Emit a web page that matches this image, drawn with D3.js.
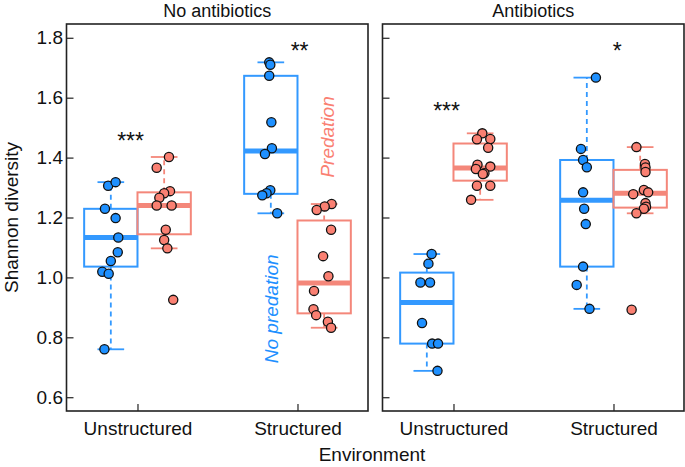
<!DOCTYPE html>
<html>
<head>
<meta charset="utf-8">
<script src="https://cdn.jsdelivr.net/npm/d3@7"></script>
<style>
  html, body { margin: 0; padding: 0; background: #fff; }
  svg { display: block; font-family: "Liberation Sans", Arial, Helvetica, sans-serif; }
</style>
</head>
<body>
<svg id="chart" width="685" height="467"></svg>
<script>
// ---------------- DATA ----------------
const panels = ["No antibiotics", "Antibiotics"];
const environments = ["Unstructured", "Structured"];
const treatments = ["No predation", "Predation"];
const yTicks = [0.6, 0.8, 1.0, 1.2, 1.4, 1.6, 1.8];

// points (Shannon diversity) per panel / environment / treatment
const noAbUnstrNoPred = [1.306, 1.318, 1.229, 1.198, 1.133, 1.084, 1.055, 1.019, 1.012, 0.760];
const noAbUnstrPred   = [1.402, 1.366, 1.288, 1.281, 1.266, 1.240, 1.240, 1.159, 1.125, 1.097, 0.925];
const noAbStrNoPred   = [1.718, 1.710, 1.673, 1.518, 1.431, 1.412, 1.291, 1.281, 1.274, 1.214];
const noAbStrPred     = [1.245, 1.237, 1.225, 1.159, 1.071, 1.004, 0.955, 0.894, 0.874, 0.852, 0.832];
const abUnstrNoPred   = [1.078, 1.046, 0.983, 0.983, 0.848, 0.779, 0.779, 0.688];
const abUnstrPred     = [1.481, 1.461, 1.462, 1.433, 1.376, 1.370, 1.362, 1.348, 1.345, 1.306, 1.306, 1.259];
const abStrNoPred     = [1.667, 1.429, 1.392, 1.368, 1.284, 1.229, 1.178, 1.036, 0.975, 0.895];
const abStrPred       = [1.435, 1.379, 1.367, 1.352, 1.292, 1.284, 1.278, 1.248, 1.236, 1.229, 1.214, 0.892];

// horizontal jitter of each point (in category units)
const jNoAbUnstrNoPred = [-0.05, 0.09, -0.11, 0.09, 0.14, 0.13, 0.0, -0.16, -0.04, -0.12];
const jNoAbUnstrPred   = [0.09, -0.14, 0.11, 0.0, -0.09, -0.14, 0.14, 0.03, 0.0, 0.06, 0.17];
const jNoAbStrNoPred   = [-0.03, -0.01, -0.03, 0.01, 0.02, -0.11, -0.01, -0.08, -0.16, 0.12];
const jNoAbStrPred     = [0.14, 0.01, -0.14, 0.13, -0.02, 0.08, -0.19, -0.2, -0.15, 0.07, 0.13];
const jAbUnstrNoPred   = [0.09, 0.03, -0.12, 0.06, -0.09, 0.10, 0.21, 0.20];
const jAbUnstrPred     = [0.04, -0.06, 0.19, 0.15, -0.05, 0.19, -0.08, 0.08, 0.05, -0.06, 0.19, -0.17];
const jAbStrNoPred     = [0.17, -0.11, -0.07, 0.0, -0.07, -0.05, -0.02, -0.07, -0.19, 0.05];
const jAbStrPred       = [-0.07, 0.09, 0.10, 0.10, 0.07, 0.15, -0.13, 0.10, 0.11, 0.07, -0.07, -0.16];

// box statistics: [lower whisker, Q1, median, Q3, upper whisker]
const bNoAbUnstrNoPred = [0.760, 1.036, 1.133, 1.229, 1.318];
const bNoAbUnstrPred   = [1.097, 1.144, 1.240, 1.284, 1.402];
const bNoAbStrNoPred   = [1.214, 1.279, 1.422, 1.673, 1.718];
const bNoAbStrPred     = [0.832, 0.880, 0.981, 1.190, 1.245];
const bAbUnstrNoPred   = [0.688, 0.779, 0.916, 1.016, 1.078];
const bAbUnstrPred     = [1.259, 1.323, 1.365, 1.447, 1.481];
const bAbStrNoPred     = [0.895, 1.036, 1.258, 1.392, 1.667];
const bAbStrPred       = [1.214, 1.233, 1.281, 1.359, 1.435];

// significance labels per panel / environment, their heights and x offsets (category units)
const sigLabels = [["***", "**"], ["***", "*"]];
const sigHeights = [[1.472, 1.773], [1.573, 1.773]];
const sigOffsets = [[-0.13, 0.04], [-0.13, 0.07]];

// ---------------- BUILD ----------------
const groups = [
  {panel: 0, env: 0, trt: 0, pts: noAbUnstrNoPred, jit: jNoAbUnstrNoPred, box: bNoAbUnstrNoPred},
  {panel: 0, env: 0, trt: 1, pts: noAbUnstrPred,   jit: jNoAbUnstrPred,   box: bNoAbUnstrPred},
  {panel: 0, env: 1, trt: 0, pts: noAbStrNoPred,   jit: jNoAbStrNoPred,   box: bNoAbStrNoPred},
  {panel: 0, env: 1, trt: 1, pts: noAbStrPred,     jit: jNoAbStrPred,     box: bNoAbStrPred},
  {panel: 1, env: 0, trt: 0, pts: abUnstrNoPred,   jit: jAbUnstrNoPred,   box: bAbUnstrNoPred},
  {panel: 1, env: 0, trt: 1, pts: abUnstrPred,     jit: jAbUnstrPred,     box: bAbUnstrPred},
  {panel: 1, env: 1, trt: 0, pts: abStrNoPred,     jit: jAbStrNoPred,     box: bAbStrNoPred},
  {panel: 1, env: 1, trt: 1, pts: abStrPred,       jit: jAbStrPred,       box: bAbStrPred}
];

const colors = {line: ["#3399ff", "#f4877a"], fill: ["#1e90ff", "#fa8072"]};
const svg = d3.select("#chart");
const plotTop = 24, plotBottom = 411;
const panelLeft = [66.5, 382.5], panelW = 301.5;
const fontSize = 19;
const starSize = 23;

const y = d3.scaleLinear().domain([0.554, 1.846]).range([plotBottom, plotTop]);
// positions: env e, treatment t -> 1 + 3e + t ; ticks at 1.5 and 4.5
const x = d3.scaleLinear().domain([0.169, 5.822]).range([0, panelW]);
const pos = (e, t) => 1 + 3 * e + t;
const boxW = x(1) - x(0);

panels.forEach((title, p) => {
  const g = svg.append("g").attr("transform", `translate(${panelLeft[p]},0)`);

  // axes with inward ticks
  const yAxis = d3.axisLeft(y).tickValues(yTicks).tickSize(-7).tickFormat(p === 0 ? d3.format(".1f") : () => "");
  const ya = g.append("g").call(yAxis);
  ya.select(".domain").remove();
  ya.selectAll("line").attr("stroke", "#222").attr("stroke-width", 1.2);
  ya.selectAll("text").attr("font-size", fontSize).attr("fill", "#111").attr("x", -3.5).attr("font-family", "Liberation Sans, Arial, sans-serif");

  const xAxis = d3.axisBottom(x).tickValues([1.5, 4.5]).tickSize(-7).tickFormat((d, i) => environments[i]);
  const xa = g.append("g").attr("transform", `translate(0,${plotBottom})`).call(xAxis);
  xa.select(".domain").remove();
  xa.selectAll("line").attr("stroke", "#222").attr("stroke-width", 1.2);
  xa.selectAll("text").attr("font-size", fontSize).attr("fill", "#111").attr("y", 11).attr("dy", "0.71em").attr("font-family", "Liberation Sans, Arial, sans-serif");

  // panel title
  g.append("text").attr("x", panelW / 2).attr("y", 16.5).attr("text-anchor", "middle")
    .attr("font-size", 18).attr("fill", "#111").text(title);

  const pg = groups.filter(d => d.panel === p);

  pg.forEach(d => {
    const cx = x(pos(d.env, d.trt));
    const col = colors.line[d.trt];
    const [wl, q1, med, q3, wh] = d.box;
    const bg = g.append("g");
    // whiskers (dashed)
    bg.append("line").attr("x1", cx).attr("x2", cx).attr("y1", y(q3)).attr("y2", y(wh))
      .attr("stroke", col).attr("stroke-width", 1.8).attr("stroke-dasharray", "5,4");
    bg.append("line").attr("x1", cx).attr("x2", cx).attr("y1", y(q1)).attr("y2", y(wl))
      .attr("stroke", col).attr("stroke-width", 1.8).attr("stroke-dasharray", "5,4");
    // staples
    [wl, wh].forEach(v => {
      bg.append("line").attr("x1", cx - boxW / 4).attr("x2", cx + boxW / 4).attr("y1", y(v)).attr("y2", y(v))
        .attr("stroke", col).attr("stroke-width", 1.8);
    });
    // box
    bg.append("rect").attr("x", cx - boxW / 2).attr("width", boxW).attr("y", y(q3)).attr("height", y(q1) - y(q3))
      .attr("fill", "none").attr("stroke", col).attr("stroke-width", 2);
    // median
    bg.append("line").attr("x1", cx - boxW / 2).attr("x2", cx + boxW / 2).attr("y1", y(med)).attr("y2", y(med))
      .attr("stroke", col).attr("stroke-width", 5);
  });

  // points on top
  pg.forEach(d => {
    g.append("g").selectAll("circle").data(d.pts).join("circle")
      .attr("cx", (v, i) => x(pos(d.env, d.trt) + d.jit[i]))
      .attr("cy", v => y(v))
      .attr("r", 4.6)
      .attr("fill", colors.fill[d.trt])
      .attr("stroke", "#111").attr("stroke-width", 1.3);
  });

  // significance stars
  sigLabels[p].forEach((s, e) => {
    g.append("text").attr("x", x(1.5 + 3 * e + sigOffsets[p][e])).attr("y", y(sigHeights[p][e]) + 0.575 * starSize)
      .attr("text-anchor", "middle").attr("font-size", starSize).attr("fill", "#111").text(s);
  });

  // frame
  g.append("rect").attr("x", 0).attr("y", plotTop).attr("width", panelW).attr("height", plotBottom - plotTop)
    .attr("fill", "none").attr("stroke", "#222").attr("stroke-width", 1.6);
});

// in-plot treatment labels (left panel, structured)
const g0x = panelLeft[0];
svg.append("text")
  .attr("transform", `translate(${g0x + x(5) + 10},${y(1.469)}) rotate(-90)`)
  .attr("text-anchor", "middle").attr("font-size", fontSize).attr("font-style", "italic")
  .attr("fill", colors.fill[1]).text(treatments[1]);
svg.append("text")
  .attr("transform", `translate(${g0x + x(4) + 7},${y(0.895)}) rotate(-90)`)
  .attr("text-anchor", "middle").attr("font-size", fontSize).attr("font-style", "italic")
  .attr("fill", colors.fill[0]).text(treatments[0]);

// axis titles
svg.append("text").attr("transform", `translate(17.5,${(plotTop + plotBottom) / 2}) rotate(-90)`)
  .attr("text-anchor", "middle").attr("font-size", fontSize).attr("fill", "#111").text("Shannon diversity");
svg.append("text").attr("x", 372).attr("y", 460.5).attr("text-anchor", "middle")
  .attr("font-size", fontSize).attr("fill", "#111").text("Environment");
</script>
</body>
</html>
